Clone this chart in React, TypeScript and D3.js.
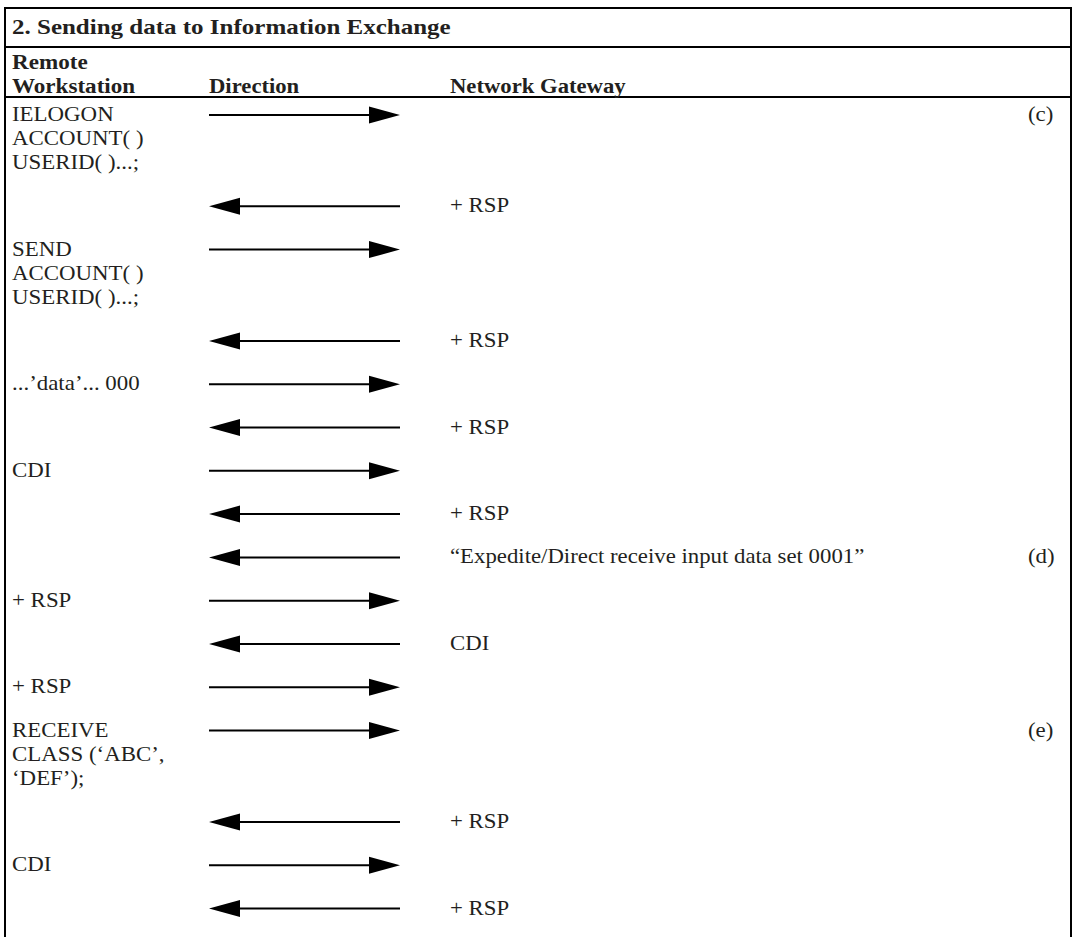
import React from "react";
import * as d3 from "d3";

const title = "2. Sending data to Information Exchange";
const headerLeft = ["Remote", "Workstation"];
const headerDirection = "Direction";
const headerRight = "Network Gateway";

const leftText: string[][] = [
  ["IELOGON", "ACCOUNT( )", "USERID( )...;"],
  [],
  ["SEND", "ACCOUNT( )", "USERID( )...;"],
  [],
  ["...’data’... 000"],
  [],
  ["CDI"],
  [],
  [],
  ["+ RSP"],
  [],
  ["+ RSP"],
  ["RECEIVE", "CLASS (‘ABC’,", "‘DEF’);"],
  [],
  ["CDI"],
  [],
];
const directions = [
  "right", "left", "right", "left", "right", "left", "right", "left",
  "left", "right", "left", "right", "right", "left", "right", "left",
];
const rightText = [
  "", "+ RSP", "", "+ RSP", "", "+ RSP", "", "+ RSP",
  "“Expedite/Direct receive input data set 0001”", "", "CDI", "", "", "+ RSP", "", "+ RSP",
];
const notes = ["(c)", "", "", "", "", "", "", "", "(d)", "", "", "", "(e)", "", "", ""];

const W = 1077;
const H = 937;
const FONT = "'Liberation Serif', 'Times New Roman', serif";
const FS = 21;
const LINE = 24; // line spacing within a cell
const GAP = 43.3; // spacing between rows
const INK = "#231f20";

function T({ x, y, sx = 1.09, bold = false, children }: { x: number; y: number; sx?: number; bold?: boolean; children: React.ReactNode }) {
  return (
    <text transform={`translate(${x},${y}) scale(${sx},1)`} fontWeight={bold ? "bold" : "normal"} fill={INK}>
      {children}
    </text>
  );
}

export default function App() {
  const offsets: number[] = [];
  let acc = 0;
  leftText.forEach((lines) => {
    offsets.push(acc);
    acc += Math.max(lines.length - 1, 0) * LINE + GAP;
  });
  const lastOffset = offsets[offsets.length - 1];
  const y = d3.scaleLinear().domain([0, lastOffset]).range([121, 121 + lastOffset]);
  const x = d3
    .scaleOrdinal<string, number>()
    .domain(["left", "arrowStart", "arrowEnd", "right", "note"])
    .range([12, 209, 400, 450, 1028]);

  const left = 5;
  const right = 1071;
  const headW = 31;
  const headH = 8.5;

  const arrow = (dir: string, yy: number, key: number) => {
    const x0 = x("arrowStart");
    const x1 = x("arrowEnd");
    const cy = yy - 6;
    if (dir === "right") {
      return (
        <g key={key}>
          <line x1={x0} x2={x1 - headW + 2} y1={cy} y2={cy} stroke="#000" strokeWidth={2} />
          <path d={`M${x1},${cy} L${x1 - headW},${cy - headH} L${x1 - headW},${cy + headH} Z`} fill="#000" />
        </g>
      );
    }
    return (
      <g key={key}>
        <line x1={x0 + headW - 2} x2={x1} y1={cy} y2={cy} stroke="#000" strokeWidth={2} />
        <path d={`M${x0},${cy} L${x0 + headW},${cy - headH} L${x0 + headW},${cy + headH} Z`} fill="#000" />
      </g>
    );
  };

  return (
    <svg width={W} height={H} style={{ position: "absolute", left: 0, top: 0, background: "#fff" }} fontFamily={FONT} fontSize={FS}>
      <rect x={0} y={0} width={W} height={H} fill="#fff" />
      <line x1={left} x2={right} y1={8} y2={8} stroke="#000" strokeWidth={2} />
      <line x1={left} x2={right} y1={47} y2={47} stroke="#000" strokeWidth={2} />
      <line x1={left} x2={right} y1={97} y2={97} stroke="#000" strokeWidth={2} />
      <line x1={left} x2={left} y1={7} y2={H} stroke="#000" strokeWidth={2} />
      <line x1={right} x2={right} y1={7} y2={H} stroke="#000" strokeWidth={2} />

      <T x={12} y={34} sx={1.19} bold>{title}</T>
      {headerLeft.map((t, i) => (
        <T key={i} x={x("left")} y={69 + i * LINE} sx={1.1} bold>{t}</T>
      ))}
      <T x={x("arrowStart")} y={93} sx={1.08} bold>{headerDirection}</T>
      <T x={x("right")} y={93} sx={1.08} bold>{headerRight}</T>

      {leftText.map((lines, r) => (
        <g key={r}>
          {lines.map((t, j) => (
            <T key={j} x={x("left")} y={y(offsets[r]) + j * LINE}>{t}</T>
          ))}
          {arrow(directions[r], y(offsets[r]), r)}
          {rightText[r] && <T x={x("right")} y={y(offsets[r])} sx={1.085}>{rightText[r]}</T>}
          {notes[r] && <T x={x("note")} y={y(offsets[r])}>{notes[r]}</T>}
        </g>
      ))}
    </svg>
  );
}
